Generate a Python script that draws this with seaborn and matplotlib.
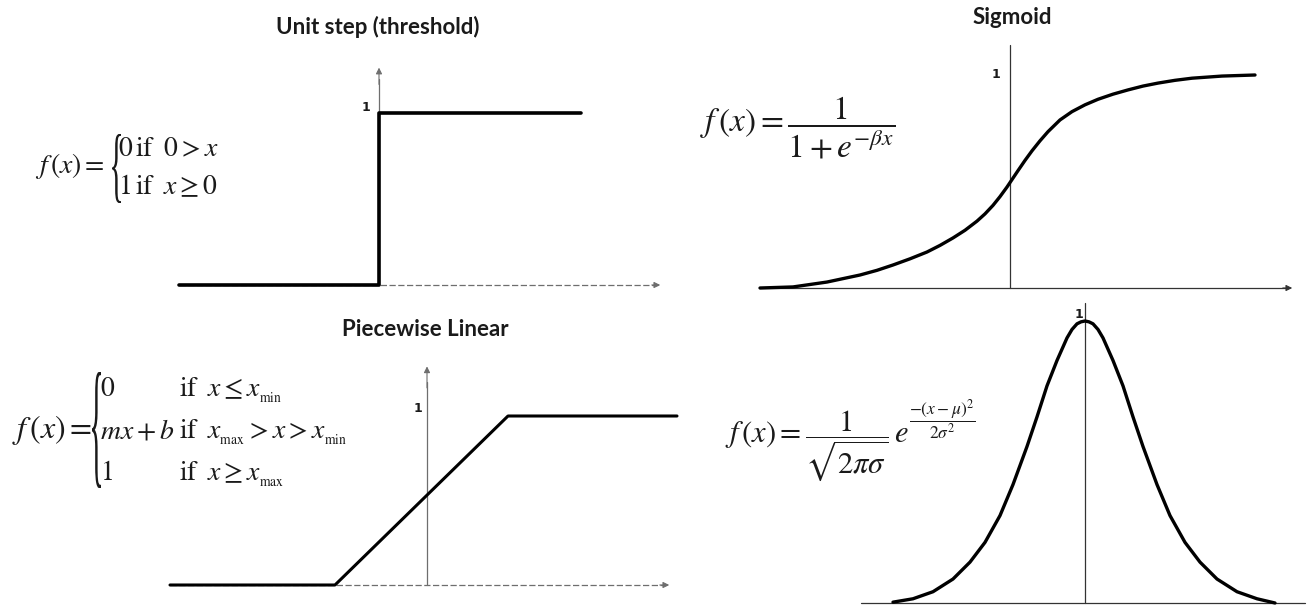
import numpy as np
import seaborn as sns
import matplotlib.pyplot as plt
from matplotlib.textpath import TextPath
from matplotlib.patches import PathPatch
from matplotlib.transforms import Affine2D
from matplotlib.font_manager import FontProperties

# --- dados ---
# degrau unitario
step_x = [-2.0, 0.0, 0.0, 2.02]
step_y = [0.0, 0.0, 1.0, 1.0]

# linear por partes
pw_x = [-2.57, -0.92, 0.81, 2.5]
pw_y = [0.0, 0.0, 1.0, 1.0]

# sigmoide
sig_x = [-2.50, -2.17, -1.83, -1.50, -1.33, -1.17, -1.00, -0.83, -0.70, -0.57, -0.45, -0.33, -0.25,
         -0.17, -0.10, -0.03, 0.03, 0.08, 0.15, 0.22, 0.30, 0.38, 0.50, 0.62, 0.75, 0.88, 1.03, 1.18,
         1.33, 1.48, 1.65, 1.82, 2.12, 2.45]
sig_y = [0.0, 0.005, 0.028, 0.061, 0.083, 0.108, 0.137, 0.169, 0.200, 0.235, 0.271, 0.314, 0.348,
         0.388, 0.429, 0.474, 0.516, 0.551, 0.599, 0.644, 0.691, 0.734, 0.789, 0.828, 0.860, 0.886,
         0.910, 0.930, 0.948, 0.962, 0.975, 0.985, 0.995, 1.0]

# gaussiana
gau_x = [-1.92, -1.72, -1.52, -1.32, -1.15, -1.00, -0.85, -0.72, -0.58, -0.48, -0.38, -0.28, -0.18,
         -0.13, -0.08, -0.04, 0.0, 0.04, 0.08, 0.13, 0.18, 0.28, 0.38, 0.48, 0.58, 0.72, 0.85, 1.00,
         1.15, 1.32, 1.52, 1.72, 1.90]
gau_y = [0.003, 0.015, 0.04, 0.085, 0.145, 0.215, 0.31, 0.42, 0.555, 0.66, 0.77, 0.86, 0.94,
         0.97, 0.99, 0.997, 1.0, 0.997, 0.99, 0.97, 0.94, 0.86, 0.77, 0.66, 0.555, 0.42, 0.31, 0.215,
         0.145, 0.085, 0.04, 0.015, 0.0]

titles = ['Unit step (threshold)', 'Sigmoid', 'Piecewise Linear']

sns.set_theme(style='white')
plt.rcParams['mathtext.fontset'] = 'stix'
plt.rcParams['font.family'] = ['DejaVu Sans']

W, H = 1307, 608
fig = plt.figure(figsize=(W / 100, H / 100), dpi=100)
fig.patch.set_facecolor('white')


def make_ax(rect, origin, scale):
    # rect em pixels (esq, topo, dir, base), origem e escala em pixels
    l, t, r, b = rect
    ax = fig.add_axes([l / W, 1 - b / H, (r - l) / W, (b - t) / H])
    ox, oy = origin
    sx, sy = scale
    ax.set_xlim((l - ox) / sx, (r - ox) / sx)
    ax.set_ylim((oy - b) / sy, (oy - t) / sy)
    ax.axis('off')
    return ax


def ftext(x, y, s, **kw):
    kw.setdefault('color', '#1a1a1a')
    fig.text(x / W, 1 - y / H, s, **kw)


def brace(x0, x1, ytop, ybot):
    tp = TextPath((0, 0), '{', size=50, prop=FontProperties(family='Liberation Serif'))
    ext = tp.get_extents()
    tr = (Affine2D().translate(-ext.x0, -ext.y0)
          .scale((x1 - x0) / ext.width / W, (ybot - ytop) / ext.height / H)
          .translate(x0 / W, 1 - ybot / H))
    fig.add_artist(PathPatch(tr.transform_path(tp), fc='#1a1a1a', ec='none',
                             transform=fig.transFigure))


def arrow_head(ax, x0, y0, x1, y1, color):
    ax.annotate('', xy=(x1, y1), xytext=(x0, y0), annotation_clip=False,
                arrowprops=dict(arrowstyle='-|>', color=color, lw=0.8, mutation_scale=9))


gray = '#6e6e6e'

# --- painel 1: degrau ---
ax1 = make_ax((150, 40, 690, 300), (379, 285), (100, 172))
ax1.plot([-2.0, 2.8], [0, 0], color=gray, lw=0.9, ls=(0, (5, 2)), clip_on=False)
arrow_head(ax1, 2.7, 0, 2.84, 0, gray)
ax1.plot([0, 0], [0, 1.2], color=gray, lw=0.9, clip_on=False)
arrow_head(ax1, 0, 1.15, 0, 1.28, gray)
sns.lineplot(x=step_x, y=step_y, ax=ax1, estimator=None, sort=False, color='black', lw=2.6)
ax1.axis('off')

# --- painel 3: linear por partes ---
ax3 = make_ax((150, 345, 690, 600), (427, 585), (100, 169))
ax3.plot([-2.57, 2.4], [0, 0], color=gray, lw=0.9, ls=(0, (5, 2)), clip_on=False)
arrow_head(ax3, 2.3, 0, 2.45, 0, gray)
ax3.plot([0, 0], [0, 1.2], color=gray, lw=0.9, clip_on=False)
arrow_head(ax3, 0, 1.15, 0, 1.31, gray)
sns.lineplot(x=pw_x, y=pw_y, ax=ax3, estimator=None, sort=False, color='black', lw=2.2)
ax3.axis('off')

# --- painel 2: sigmoide ---
ax2 = make_ax((740, 30, 1305, 300), (1010, 288), (100, 213))
ax2.plot([-2.5, 2.75], [0, 0], color='#333333', lw=0.9, clip_on=False)
arrow_head(ax2, 2.7, 0, 2.85, 0, '#333333')
ax2.plot([0, 0], [0, 1.14], color='#333333', lw=0.9, clip_on=False)
sns.lineplot(x=sig_x, y=sig_y, ax=ax2, estimator=None, sort=False, color='black', lw=2.4)
ax2.axis('off')

# --- painel 4: gaussiana ---
ax4 = make_ax((840, 295, 1307, 608), (1085, 603), (100, 282))
ax4.plot([-2.24, 2.2], [0, 0], color='#333333', lw=0.9, clip_on=False)
ax4.plot([0, 0], [0, 1.065], color='#333333', lw=0.9, clip_on=False)
sns.lineplot(x=gau_x, y=gau_y, ax=ax4, estimator=None, sort=False, color='black', lw=2.4)
ax4.axis('off')

# --- titulos ---
tkw = dict(family='Lato', fontweight='bold', fontsize=16, ha='center', va='center')
ftext(378, 27, titles[0], **tkw)
ftext(1012, 17, titles[1], **tkw)
ftext(425, 330, titles[2], **tkw)

# --- rotulos "1" ---
okw = dict(fontweight='bold', fontsize=9, ha='center', va='center')
ftext(366, 108, '1', **okw)
ftext(996, 75, '1', **okw)
ftext(418, 409, '1', **okw)
ftext(1079, 315, '1', **okw)

# --- formulas ---
fs = 20
ftext(35, 166, r'$f\,(x)=$', fontsize=fs, ha='left', va='center')
brace(112, 121, 134, 203)
ftext(118, 148, r'$0\,\mathrm{if}\;\;0>x$', fontsize=fs, ha='left', va='center')
ftext(118, 186, r'$1\,\mathrm{if}\;\;x\geq 0$', fontsize=fs, ha='left', va='center')

fp = 20
ftext(12, 430, r'$f\,(x)=$', fontsize=23, ha='left', va='center')
brace(92, 101, 372, 488)
ftext(100, 388, r'$0$', fontsize=fp, ha='left', va='center')
ftext(100, 430, r'$mx+b$', fontsize=fp, ha='left', va='center')
ftext(100, 472, r'$1$', fontsize=fp, ha='left', va='center')
ftext(179, 390, r'$\mathrm{if}\;\;x\leq x_{_{\mathrm{min}}}$', fontsize=fp, ha='left', va='center')
ftext(179, 432, r'$\mathrm{if}\;\;x_{_{\mathrm{max}}}>x>x_{_{\mathrm{min}}}$', fontsize=fp, ha='left', va='center')
ftext(179, 474, r'$\mathrm{if}\;\;x\geq x_{_{\mathrm{max}}}$', fontsize=fp, ha='left', va='center')

ftext(700, 128, r'$f\,(x)=\dfrac{1}{1+e^{-\beta x}}$', fontsize=24, ha='left', va='center')
ftext(725, 446, r'$f\,(x)=\dfrac{1}{\sqrt{2\pi\sigma}}\,e$', fontsize=22, ha='left', va='center')
ftext(909, 420, r'$\dfrac{-(x-\mu)^2}{2\sigma^2}$', fontsize=12.5, ha='left', va='center')

plt.savefig('out.png', dpi=100, facecolor='white')
